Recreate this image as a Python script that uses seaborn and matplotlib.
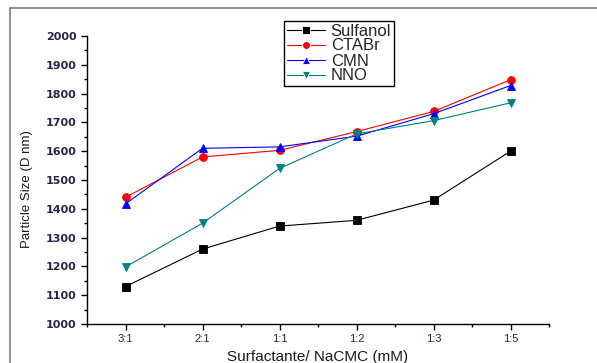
import matplotlib
matplotlib.use("Agg")
import matplotlib.pyplot as plt
from matplotlib.lines import Line2D
from matplotlib.ticker import MultipleLocator
import seaborn as sns
import pandas as pd

# Surfactant / NaCMC ratios on the x axis
ratios = ["3:1", "2:1", "1:1", "1:2", "1:3", "1:5"]

# Particle size (D, nm) per surfactant
sulfanol = [1130, 1260, 1340, 1360, 1430, 1600]
ctabr = [1440, 1580, 1603, 1668, 1738, 1848]
cmn = [1417, 1610, 1615, 1652, 1730, 1828]
nno = [1198, 1350, 1540, 1660, 1706, 1768]

series_names = ["Sulfanol", "CTABr", "CMN", "NNO"]
series_values = [sulfanol, ctabr, cmn, nno]
colors = ["#000000", "#ff0000", "#0000ff", "#008080"]
markers = ["s", "o", "^", "v"]

rows = []
for name, vals in zip(series_names, series_values):
    for i, v in enumerate(vals):
        rows.append({"pos": i, "size": v, "surfactant": name})
df = pd.DataFrame(rows)

sns.set_style("white")
plt.rcParams["font.family"] = ["Liberation Sans", "DejaVu Sans"]

fig = plt.figure(figsize=(5.97, 3.63), dpi=100)
ax = fig.add_axes([87 / 597, 1 - 324 / 363, (549 - 87) / 597, (324 - 36) / 363])

sns.lineplot(
    data=df, x="pos", y="size", hue="surfactant", style="surfactant",
    hue_order=series_names, style_order=series_names,
    palette=colors, markers=markers, dashes=False,
    markersize=5.6, linewidth=0.8, markeredgewidth=0.6,
    ax=ax, legend=True,
)
for line, c in zip(ax.lines, colors):
    line.set_markeredgecolor(c)

ax.set_xlim(-0.5, 5.5)
ax.set_ylim(1000, 2000)
ax.set_xticks(range(len(ratios)))
ax.set_xticklabels(ratios)
ax.xaxis.set_minor_locator(MultipleLocator(0.5))
ax.yaxis.set_major_locator(MultipleLocator(100))
ax.yaxis.set_minor_locator(MultipleLocator(50))

for side in ["top", "right"]:
    ax.spines[side].set_visible(False)
for side in ["left", "bottom"]:
    ax.spines[side].set_color("black")
    ax.spines[side].set_linewidth(1.0)

ax.tick_params(axis="both", which="major", direction="out", length=4.5,
               width=1.0, color="black", bottom=True, left=True)
ax.tick_params(axis="both", which="minor", direction="out", length=2.5,
               width=1.0, color="black", bottom=True, left=True)
ax.tick_params(axis="y", labelsize=8, labelcolor="#262648", pad=3)
ax.tick_params(axis="x", labelsize=8, labelcolor="#262648", pad=3)
for lbl in ax.get_yticklabels():
    lbl.set_fontfamily("DejaVu Sans")
    lbl.set_fontweight("bold")

ax.set_xlabel("Surfactante/ NaCMC (mM)", fontsize=11, color="#1a1a1a")
ax.set_ylabel("Particle Size (D nm)", fontsize=9.5, color="#1a1a1a")
ax.yaxis.set_label_coords(-0.117, 0.47)
ax.xaxis.set_label_coords(0.5, -0.09)

handles, labels = ax.get_legend_handles_labels()
ax.legend(
    handles=handles, labels=labels,
    loc="upper left", bbox_to_anchor=(284 / 597, 1 - 21 / 363),
    bbox_transform=fig.transFigure, borderaxespad=0,
    fontsize=12, frameon=True, fancybox=False, edgecolor="black",
    framealpha=1, borderpad=0.15, labelspacing=0.0,
    handlelength=2.3, handletextpad=0.35,
)
ax.get_legend().get_frame().set_linewidth(1.0)

# outer frame around the plot area
fig.add_artist(Line2D([10 / 597, 1.0], [1 - 8 / 363, 1 - 8 / 363],
                      transform=fig.transFigure, color="#7f7f7f", linewidth=1.2))
fig.add_artist(Line2D([10 / 597, 10 / 597], [0.0, 1 - 8 / 363],
                      transform=fig.transFigure, color="#7f7f7f", linewidth=1.2))

fig.savefig("out.png", dpi=100)
